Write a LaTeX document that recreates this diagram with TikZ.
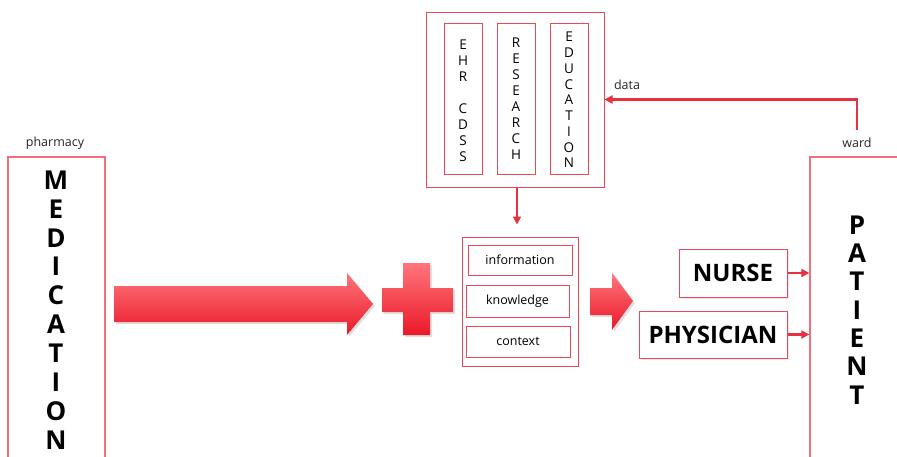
\documentclass[tikz,border=0pt]{standalone}
\usepackage{fontspec}
\setmainfont{Open Sans}
\usetikzlibrary{arrows.meta,shadows,calc}

\definecolor{boxred}{RGB}{232,74,88}
\definecolor{paleRed}{RGB}{238,112,122}
\definecolor{linkred}{RGB}{232,48,64}
\definecolor{fillTop}{RGB}{255,118,124}
\definecolor{fillBot}{RGB}{234,24,40}

\tikzset{
  frame/.style={draw=boxred, line width=1pt, rectangle, inner sep=0pt},
  paleframe/.style={draw=paleRed, line width=1.3pt, rectangle, inner sep=0pt},
  column/.style={frame, minimum width=38pt, minimum height=151pt},
  coltext/.style={align=center, inner sep=0pt},
  item/.style={frame, font=\fontsize{12.5}{14}\selectfont},
  role/.style={frame, font=\fontsize{24}{26}\bfseries\selectfont,
    drop shadow={shadow xshift=1.5pt, shadow yshift=-1.5pt, opacity=0.18}},
  tall/.style={align=center, font=\fontsize{26}{28.9}\bfseries\selectfont, inner sep=0pt},
  tag/.style={font=\fontsize{12.5}{14}\selectfont, text=black!85},
  conn/.style={draw=linkred, line width=2.4pt, -{Triangle[length=8pt,width=8pt]}},
  blockarrow/.style={top color=fillTop, bottom color=fillBot, draw=none,
    drop shadow={shadow xshift=2pt, shadow yshift=-2pt, opacity=0.25}}
}

\begin{document}
\begin{tikzpicture}[x=1pt,y=-1pt]
\useasboundingbox (0,0) rectangle (897,456);
\clip (0,0) rectangle (897,456);

% side boxes running off the bottom edge
\node[paleframe, minimum width=97pt, minimum height=313pt] (med) at (56.5,313.5) {};
\node[paleframe, minimum width=95pt, minimum height=313pt] (pat) at (857.5,313.5) {};
\node[tall] (medtext) at (56,310) {M\\E\\D\\I\\C\\A\\T\\I\\O\\N};
\node[tall, font=\fontsize{26}{28.3}\bfseries\selectfont] (pattext) at (857,310) {P\\A\\T\\I\\E\\N\\T};
\node[tag] (pharmacy) at (55,143) {pharmacy};
\node[tag] (ward) at (857,143) {ward};

% data sources
\node[frame, minimum width=178pt, minimum height=175pt] (top) at (515,99.5) {};
\node[column] (ehr) at (463,98.5) {};
\node[coltext, font=\fontsize{13.5}{16}\selectfont] (ehrtext) at (463,100.5) {E\\H\\R\\[16pt]C\\D\\S\\S};
\node[column] (res) at (516,98.5) {};
\node[coltext, font=\fontsize{13.5}{16}\selectfont] (restext) at (516,99) {R\\E\\S\\E\\A\\R\\C\\H};
\node[column] (edu) at (569,98.5) {};
\node[coltext, font=\fontsize{13.5}{15.75}\selectfont] (edutext) at (569,100) {E\\D\\U\\C\\A\\T\\I\\O\\N};

% information stack
\node[frame, minimum width=116pt, minimum height=129pt] (info) at (520,301.5) {};
\node[item, minimum width=104pt, minimum height=30pt] (information) at (520,260) {information};
\node[item, minimum width=103pt, minimum height=32pt] (knowledge) at (517.5,301) {knowledge};
\node[item, minimum width=104pt, minimum height=31pt] (context) at (518,341.5) {context};

% care providers
\node[role, fill=white, minimum width=108pt, minimum height=48pt] (nurse) at (733,273) {NURSE};
\node[role, fill=white, minimum width=148pt, minimum height=47pt] (physician) at (713,334.5) {PHYSICIAN};

% block arrows and plus sign
\path[blockarrow] (114,286) -- (347,286) -- (347,273) -- (373,304) -- (347,335) -- (347,322) -- (114,322) -- cycle;
\path[blockarrow] (403,263) -- (430,263) -- (430,288) -- (453,288) -- (453,312) -- (430,312)
  -- (430,335) -- (403,335) -- (403,312) -- (382,312) -- (382,288) -- (403,288) -- cycle;
\path[blockarrow] (590,288) -- (612,288) -- (612,273) -- (633,301) -- (612,330) -- (612,315) -- (590,315) -- cycle;

% connectors
\coordinate (wardtop) at (857,130);
\draw[conn] (wardtop) |- (top.east);
\node[tag] (data) at (627,85) {data};
\draw[conn] ([xshift=2pt]top.south) -- ([xshift=-3pt,yshift=12pt]info.north);
\draw[conn] (nurse.east) -- (nurse.east -| pat.west);
\draw[conn] (physician.east) -- (physician.east -| pat.west);
\end{tikzpicture}
\end{document}
